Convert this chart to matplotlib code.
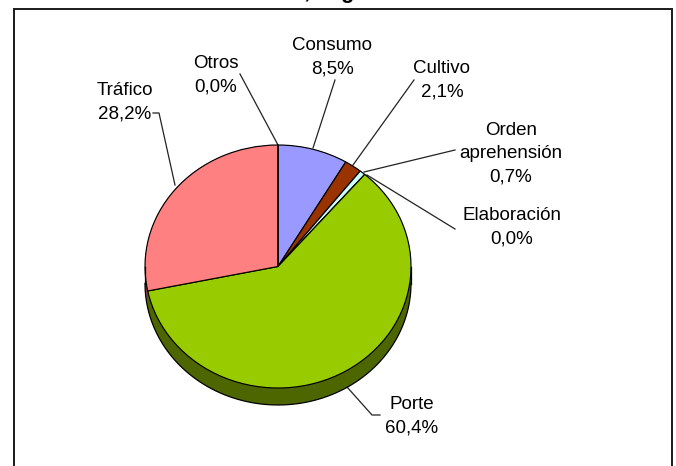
import numpy as np
import matplotlib
matplotlib.use("Agg")
import matplotlib.pyplot as plt
from matplotlib.patches import Rectangle

W, H = 676, 466
categories = ["Consumo", "Cultivo", "Orden\naprehensión", "Elaboración", "Porte", "Tráfico", "Otros"]
values = [8.5, 2.1, 0.7, 0.0, 60.4, 28.2, 0.0]
labels = ["8,5%", "2,1%", "0,7%", "0,0%", "60,4%", "28,2%", "0,0%"]
colors = ["#9999FF", "#993300", "#CCFFFF", "#FFFFFF", "#99CC00", "#FF8080", "#CCCCCC"]
dark = ["#4D4D80", "#4D1A00", "#668080", "#808080", "#4D6600", "#804040", "#666666"]

plt.rcParams["font.family"] = ["Liberation Sans", "DejaVu Sans"]
fig = plt.figure(figsize=(W / 100, H / 100), dpi=100, facecolor="white")

# page-level overlay in pixel coordinates
pg = fig.add_axes([0, 0, 1, 1])
pg.set_xlim(0, W); pg.set_ylim(H, 0); pg.axis("off")
pg.add_patch(Rectangle((14, 8.5), 658, 480, fc="white", ec="#1a1a1a", lw=1.4, clip_on=True))
pg.text(231, -1.9, "Delitos, según", ha="left", va="baseline", fontsize=15.8, fontweight="bold", clip_on=False)

# pie
cx, cy, rx, ry, depth = 278, 266.5, 133, 121.5, 17
ax = fig.add_axes([(cx - rx) / W, 1 - (cy + ry + depth) / H, 2 * rx / W, (2 * ry + depth) / H])
ax.patch.set_visible(False)
dy = depth / ry
for off in np.linspace(dy, 0.0, 18):
    ax.pie(values, colors=dark, startangle=90, counterclock=False, radius=1, center=(0, -off),
           wedgeprops=dict(linewidth=0))
t = np.radians(np.linspace(180, 360, 181))
ax.plot(np.cos(t), np.sin(t) - dy, color="black", lw=0.9)
ax.plot([-1, -1], [0, -dy], color="black", lw=0.9)
ax.plot([1, 1], [0, -dy], color="black", lw=0.9)
ax.pie(values, colors=colors, startangle=90, counterclock=False, radius=1, center=(0, 0),
       wedgeprops=dict(edgecolor="black", linewidth=0.85))
ax.set_aspect("auto")
ax.set_xlim(-1, 1)
ax.set_ylim(-1 - dy, 1)
ax.axis("off")
for a in ax.patches + ax.lines:
    a.set_clip_on(False)

# labels and leader lines (pixel coords)
label_pos = [(332, 57), (442, 80), (511, 154), (512, 227), (412, 416), (125, 102), (216, 75)]
leaders = [
    [(313, 148), (335, 80)],
    [(353, 165), (414, 80)],
    [(364, 172), (455, 150)],
    [(367, 175), (455, 229)],
    [(347, 387), (372, 415), (380, 415)],
    [(175, 185), (159, 113), (153, 113)],
    [(278, 145), (240, 74)],
]
for (x, y), cat, lab in zip(label_pos, categories, labels):
    pg.text(x, y, f"{cat}\n{lab}", ha="center", va="center", fontsize=13.5, linespacing=1.5, color="black")
for seg in leaders:
    xs, ys = zip(*seg)
    pg.plot(xs, ys, color="#222222", lw=0.9)

fig.savefig("out.png", dpi=100, facecolor="white")
